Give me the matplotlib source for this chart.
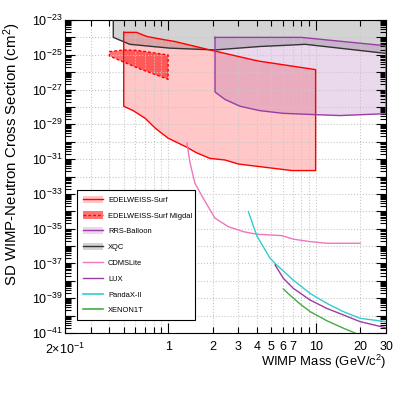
import math
import matplotlib
matplotlib.use("Agg")
import matplotlib.pyplot as plt
from matplotlib.patches import Patch
from matplotlib.lines import Line2D
from matplotlib.ticker import FixedLocator, FuncFormatter, LogLocator

plt.rcParams['font.family'] = ['Liberation Sans', 'DejaVu Sans']
plt.rcParams['mathtext.fontset'] = 'custom'
plt.rcParams['mathtext.rm'] = 'Liberation Sans'
plt.rcParams['mathtext.it'] = 'Liberation Sans:italic'
plt.rcParams['mathtext.default'] = 'regular'

# ---- data (mass in GeV/c^2, cross section in cm^2) ----
xqc_mass = [0.425, 0.425, 0.55, 1.03, 2.08, 4.2, 6.7, 8.5, 30]
xqc_xsec = [1e-23, 1.0e-24, 4e-25, 2.4e-25, 1.9e-25, 3.0e-25, 3.6e-25, 4e-25, 1.2e-25]

edw_top_mass = [0.5, 0.61, 0.72, 0.92, 1.11, 1.92, 4.07, 10]
edw_top_xsec = [1.95e-24, 1.95e-24, 1.12e-24, 7.6e-25, 5.8e-25, 1.9e-25, 4.4e-26, 1.4e-26]
edw_bot_mass = [0.5, 0.58, 0.70, 0.82, 1.0, 1.34, 1.56, 1.92, 2.43, 3.0, 6.9, 10]
edw_bot_xsec = [1.1e-28, 6.1e-29, 2.2e-29, 5.9e-30, 1.6e-30, 4.8e-31, 2.3e-31,
                1.1e-31, 8.9e-32, 5.2e-32, 2.2e-32, 2.2e-32]

mig_top_mass = [0.40, 0.50, 0.61, 0.75, 1.0]
mig_top_xsec = [1.5e-25, 1.9e-25, 1.8e-25, 1.4e-25, 9.7e-26]
mig_bot_mass = [0.40, 0.50, 0.65, 1.0]
mig_bot_xsec = [8.5e-26, 3.8e-26, 1.5e-26, 3.9e-27]

rrs_top_mass = [2.08, 8.0, 30]
rrs_top_xsec = [1e-24, 1e-24, 3.3e-25]
rrs_bot_mass = [2.08, 2.43, 3.07, 4.2, 6.0, 10, 14.6, 30]
rrs_bot_xsec = [7.2e-28, 2.7e-28, 1.1e-28, 6.1e-29, 4.3e-29, 3.6e-29, 3.2e-29, 4.1e-29]

cdms_mass = [1.34, 1.41, 1.52, 1.73, 2.08, 2.56, 3.24, 3.99, 5.0, 5.89, 7.06, 9.17, 11.9, 20]
cdms_xsec = [8.8e-31, 5.7e-32, 4.1e-33, 5.6e-34, 4e-35, 1.3e-35, 6.7e-36, 4.8e-36,
             4.3e-36, 4e-36, 2.5e-36, 1.8e-36, 1.45e-36, 1.45e-36]

pandax_mass = [3.5, 4.0, 4.91, 5.31, 7.06, 9.17, 11.9, 15.4, 20, 30]
pandax_xsec = [9.5e-35, 3.8e-36, 2e-37, 1.0e-37, 1.1e-38, 1.9e-39, 5.1e-40, 1.7e-40, 7e-41, 4.5e-41]

lux_mass = [5.31, 6.04, 7.06, 9.17, 11.9, 15.4, 20, 30]
lux_xsec = [8.2e-38, 1.4e-38, 3.7e-39, 7.9e-40, 2.6e-40, 1.1e-40, 4.5e-41, 2e-41]

xe_mass = [6.04, 6.7, 7.84, 9.17, 11.9, 15.4, 18.5]
xe_xsec = [3.4e-39, 1.5e-39, 4.7e-40, 1.7e-40, 5.1e-41, 1.9e-41, 1e-41]

x_labels = {0.2: '2$\\times$10$^{-1}$', 1: '1', 2: '2', 3: '3', 4: '4', 5: '5',
            6: '6', 7: '7', 10: '10', 20: '20', 30: '30'}
y_decades = list(range(-41, -22))

RED = '#ff0000'
PURPLE = '#9a3ca3'
PINK = '#ee77bb'
CYAN = '#33cccc'
GREEN = '#44aa44'

fig = plt.figure(figsize=(4.07, 3.97), dpi=100)
ax = fig.add_axes([65/407, 1-333/397, 321/407, 313/397])
ax.set_xscale('log')
ax.set_yscale('log')

# XQC
ax.fill(xqc_mass + [30], xqc_xsec + [1e-23], color='#d3d3d3', lw=0, zorder=1)
# EDELWEISS-Surf
ax.fill(edw_top_mass + edw_bot_mass[::-1], edw_top_xsec + edw_bot_xsec[::-1],
        color=RED, alpha=0.22, lw=0, zorder=1)
# RRS balloon
ax.fill(rrs_top_mass + rrs_bot_mass[::-1], rrs_top_xsec + rrs_bot_xsec[::-1],
        color=PURPLE, alpha=0.2, lw=0, zorder=1)
# Migdal
ax.fill(mig_top_mass + mig_bot_mass[::-1], mig_top_xsec + mig_bot_xsec[::-1],
        color=RED, alpha=0.55, lw=0, zorder=1)

ax.plot(xqc_mass, xqc_xsec, color='#333333', lw=1, zorder=3)
ax.plot(edw_top_mass + edw_bot_mass[::-1] + [edw_top_mass[0]],
        edw_top_xsec + edw_bot_xsec[::-1] + [edw_top_xsec[0]], color=RED, lw=1, zorder=3)
ax.plot(rrs_top_mass + rrs_bot_mass[::-1] + [rrs_top_mass[0]],
        rrs_top_xsec + rrs_bot_xsec[::-1] + [rrs_top_xsec[0]], color=PURPLE, lw=1, zorder=3)
ax.plot(mig_top_mass + mig_bot_mass[::-1] + [mig_top_mass[0]],
        mig_top_xsec + mig_bot_xsec[::-1] + [mig_top_xsec[0]], color=RED, lw=1,
        ls=(0, (2, 1.5)), zorder=3)
ax.plot(cdms_mass, cdms_xsec, color=PINK, lw=1, zorder=3)
ax.plot(pandax_mass, pandax_xsec, color=CYAN, lw=1, zorder=3)
ax.plot(lux_mass, lux_xsec, color=PURPLE, lw=1, zorder=3)
ax.plot(xe_mass, xe_xsec, color=GREEN, lw=1, zorder=3)

ax.set_xlim(0.2, 30)
ax.set_ylim(1e-41, 1e-23)

# ticks
ax.xaxis.set_major_locator(FixedLocator([1, 10]))
ax.xaxis.set_minor_locator(FixedLocator([0.2, 0.3, 0.4, 0.5, 0.6, 0.7, 0.8, 0.9,
                                         2, 3, 4, 5, 6, 7, 8, 9, 20, 30]))
xfmt = FuncFormatter(lambda v, p: x_labels.get(round(v, 3) if v < 1 else int(round(v)), ''))
ax.xaxis.set_major_formatter(xfmt)
ax.xaxis.set_minor_formatter(xfmt)

ax.yaxis.set_major_locator(FixedLocator([10.0 ** e for e in y_decades]))
ax.yaxis.set_minor_locator(LogLocator(base=10, subs=range(2, 10), numticks=200))


def yfmt(v, p):
    e = int(round(math.log10(v)))
    return '10$^{%d}$' % e if e % 2 else ''


ax.yaxis.set_major_formatter(FuncFormatter(yfmt))
ax.yaxis.set_minor_formatter(FuncFormatter(lambda v, p: ''))

ax.tick_params(which='both', direction='in', top=True, right=True, width=0.8,
               labelsize=9)
ax.tick_params(which='major', length=7)
ax.tick_params(which='minor', length=4)
ax.tick_params(axis='x', which='both', pad=6)
ax.tick_params(axis='y', which='both', pad=2)

ax.grid(True, which='both', axis='x', ls=':', color='#c8c8c8', lw=0.8)
ax.grid(True, which='major', axis='y', ls=':', color='#c8c8c8', lw=0.8)

fig.text(12/407, 1-154/397, 'SD WIMP-Neutron Cross Section (cm$^{2}$)', rotation=90,
         ha='center', va='center', fontsize=10.8)
fig.text(386/407, 1-362/397, 'WIMP Mass (GeV/c$^{2}$)', ha='right', va='center',
         fontsize=9.4)

handles = [
    (Patch(facecolor=RED, alpha=0.22, lw=0), Line2D([], [], color=RED, lw=1)),
    (Patch(facecolor=RED, alpha=0.55, lw=0), Line2D([], [], color=RED, lw=1, ls=(0, (2, 1.5)))),
    (Patch(facecolor=PURPLE, alpha=0.2, lw=0), Line2D([], [], color=PURPLE, lw=1)),
    (Patch(facecolor='#d3d3d3', lw=0), Line2D([], [], color='#333333', lw=1)),
    Line2D([], [], color=PINK, lw=1),
    Line2D([], [], color=PURPLE, lw=1),
    Line2D([], [], color=CYAN, lw=1.2),
    Line2D([], [], color=GREEN, lw=1.2),
]
labels = ['EDELWEISS-Surf', 'EDELWEISS-Surf Migdal', 'RRS-Balloon', 'XQC',
          'CDMSLite', 'LUX', 'PandaX-II', 'XENON1T']
leg = fig.legend(handles, labels, loc='upper left',
                 bbox_to_anchor=(77/407, 1-194/397, 118/407, 0.01), mode='expand',
                 fontsize=5.4, frameon=True, fancybox=False, edgecolor='black',
                 framealpha=1, borderpad=0.75, labelspacing=1.02, handlelength=2.7,
                 handleheight=1.1, handletextpad=0.7, borderaxespad=0)
leg.get_frame().set_linewidth(0.8)

fig.savefig('out.png', dpi=100)
